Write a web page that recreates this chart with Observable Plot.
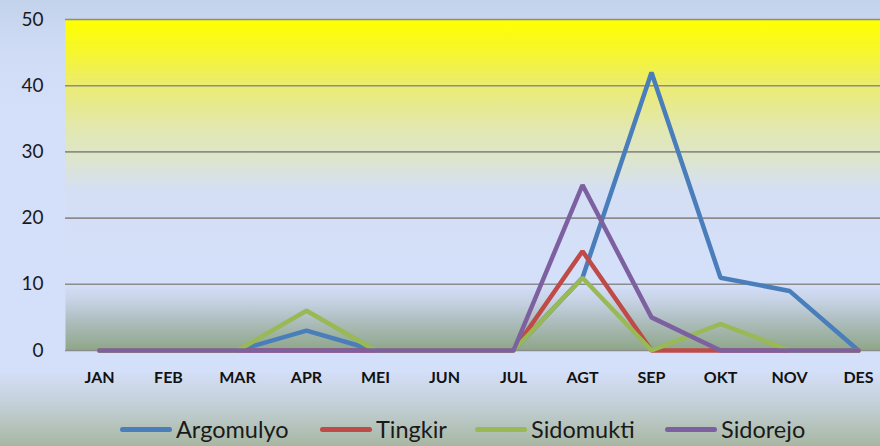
<!DOCTYPE html>
<html>
<head>
<meta charset="utf-8">
<script src="https://cdn.jsdelivr.net/npm/d3@7"></script>
<script src="https://cdn.jsdelivr.net/npm/@observablehq/plot@0.6"></script>
<style>
  html, body { margin: 0; padding: 0; }
  #wrap {
    position: relative; width: 880px; height: 446px; overflow: hidden;
    background: linear-gradient(to bottom, #c3d3eb 0%, #d0dcf6 12%, #d4dffa 25%, #d4dffa 83%, #c3cfd6 91%, #a7b7a2 100%);
    font-family: Lato, "Open Sans", sans-serif;
  }
  #chart svg { display: block; background: transparent; }
  #legend { position: absolute; left: 0; top: 400px; width: 880px; height: 46px; }
  .item { position: absolute; top: 15px; display: flex; align-items: center; font-size: 23.5px; color: #1a1a1a; }
  .swatch { width: 52px; height: 5px; border-radius: 3px; margin-right: 4px; }
</style>
</head>
<body>
<div id="wrap">
  <div id="chart"></div>
  <div id="legend"></div>
</div>
<script>
const months = ["JAN","FEB","MAR","APR","MEI","JUN","JUL","AGT","SEP","OKT","NOV","DES"];
const seriesNames = ["Argomulyo","Tingkir","Sidomukti","Sidorejo"];
const argomulyo = [0,0,0,3,0,0,0,11,42,11,9,0];
const tingkir   = [0,0,0,0,0,0,0,15,0,0,0,0];
const sidomukti = [0,0,0,6,0,0,0,11,0,4,0,0];
const sidorejo  = [0,0,0,0,0,0,0,25,5,0,0,0];
const colors = ["#4a7ebb","#be4b48","#98b954","#7d60a0"];
const yTicks = [0,10,20,30,40,50];

const valuesBySeries = [argomulyo, tingkir, sidomukti, sidorejo];
const data = seriesNames.flatMap((s, i) =>
  months.map((m, j) => ({series: s, month: m, value: valuesBySeries[i][j]})));

const plot = Plot.plot({
  width: 880,
  height: 400,
  marginTop: 19,
  marginBottom: 50,
  marginLeft: 65,
  marginRight: 0,
  style: {background: "transparent", fontFamily: "Lato, 'Open Sans', sans-serif"},
  x: {type: "point", domain: months, range: [96, 860], padding: 0, label: null},
  y: {domain: [0, 50], ticks: yTicks, label: null},
  color: {domain: seriesNames, range: colors},
  marks: [
    Plot.frame({fill: "url(#plotgrad)", stroke: "none"}),
    Plot.ruleY(yTicks, {stroke: "#8c8c8c", strokeWidth: 1.6, strokeOpacity: 1}),
    Plot.axisY({ticks: yTicks, tickSize: 0, tickPadding: 22, fontSize: 19, fill: "#1a1a1a", label: null}),
    Plot.axisX({tickSize: 0, tickPadding: 21, fontSize: 16, fontWeight: "bold", fill: "#111", label: null}),
    Plot.line(data, {x: "month", y: "value", z: "series", stroke: "series", strokeWidth: 4.5, strokeLinejoin: "miter", strokeLinecap: "round"})
  ]
});

const ns = "http://www.w3.org/2000/svg";
const defs = document.createElementNS(ns, "defs");
const grad = document.createElementNS(ns, "linearGradient");
grad.setAttribute("id", "plotgrad");
grad.setAttribute("x1", "0"); grad.setAttribute("y1", "0");
grad.setAttribute("x2", "0"); grad.setAttribute("y2", "1");
[[0, "#ffff00"], [0.1, "#f6f62e"], [0.2, "#ebeb72"], [0.33, "#e2e8b0"], [0.42, "#dde5cc"], [0.52, "#d4dff6"],
 [0.8, "#d4dffa"], [0.85, "#c6d2e4"], [0.92, "#aabbb8"], [1, "#8ea688"]].forEach(([o, c]) => {
  const s = document.createElementNS(ns, "stop");
  s.setAttribute("offset", o);
  s.setAttribute("stop-color", c);
  grad.appendChild(s);
});
defs.appendChild(grad);
plot.insertBefore(defs, plot.firstChild);
document.getElementById("chart").appendChild(plot);

const legendX = [120, 320, 475, 665];
const legend = document.getElementById("legend");
seriesNames.forEach((s, i) => {
  const it = document.createElement("div");
  it.className = "item";
  it.style.left = legendX[i] + "px";
  it.innerHTML = `<div class="swatch" style="background:${colors[i]}"></div><span>${s}</span>`;
  legend.appendChild(it);
});
</script>
</body>
</html>
